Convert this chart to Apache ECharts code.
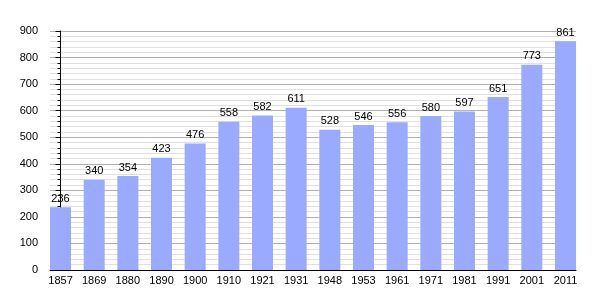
<!DOCTYPE html>
<html><head><meta charset="utf-8">
<script src="https://cdn.jsdelivr.net/npm/echarts@6/dist/echarts.min.js"></script>
<style>html,body{margin:0;padding:0;background:#fff}#c{width:605px;height:300px}</style>
</head><body><div id="c"></div>
<script>
const years = ['1857','1869','1880','1890','1900','1910','1921','1931','1948','1953','1961','1971','1981','1991','2001','2011'];
const population = [236,340,354,423,476,558,582,611,528,546,556,580,597,651,773,861];
const yTicks = [0,100,200,300,400,500,600,700,800,900];

const chart = echarts.init(document.getElementById('c'));
const idx = years.map((_, i) => i);
chart.setOption({
  animation: false,
  backgroundColor: '#fff',
  textStyle: { fontFamily: 'Liberation Sans, Arial, sans-serif' },
  grid: { left: 50, right: 29, top: 31, bottom: 30, containLabel: false },
  xAxis: {
    type: 'value', min: -0.3125, max: years.length - 1 + 0.3125,
    axisLine: { show: true, onZero: false, lineStyle: { color: '#000', width: 1 } },
    axisTick: { show: false },
    splitLine: { show: false },
    axisLabel: { customValues: idx, formatter: v => years[Math.round(v)] || '', color: '#000', fontSize: 11, margin: 5, hideOverlap: false, showMinLabel: true, showMaxLabel: true }
  },
  yAxis: {
    type: 'value', min: yTicks[0], max: yTicks[yTicks.length - 1], interval: 100,
    axisLine: { show: true, lineStyle: { color: '#000', width: 1 } },
    axisTick: { show: true, length: 5, lineStyle: { color: '#000' } },
    minorTick: { show: true, splitNumber: 5, length: 3, lineStyle: { color: '#000' } },
    splitLine: { show: true, lineStyle: { color: '#b0b0b0', width: 1 } },
    minorSplitLine: { show: true, lineStyle: { color: '#e0e0e0', width: 1 } },
    axisLabel: { color: '#000', fontSize: 11, margin: 12 }
  },
  series: [{
    type: 'bar',
    data: population.map((v, i) => [i, v]),
    barWidth: 21,
    itemStyle: { color: '#99aaff' },
    label: { show: true, position: 'top', color: '#000', fontSize: 11, distance: 3, formatter: p => p.value[1] }
  }]
});
</script></body></html>
